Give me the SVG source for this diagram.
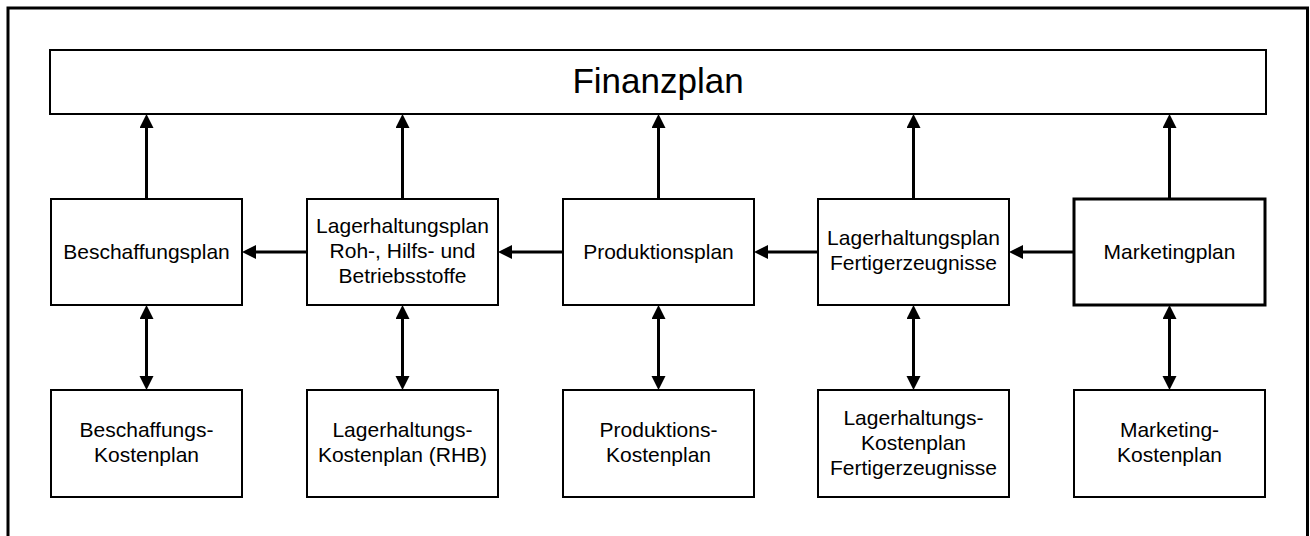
<svg xmlns="http://www.w3.org/2000/svg" width="1310" height="536" viewBox="0 0 1310 536">
  <style>
    .box { fill: #fff; stroke: #000; stroke-width: 2; }
    .box.bold { stroke-width: 3; }
    .frame { fill: #fff; stroke: #000; stroke-width: 3; }
    text { font-family: "Liberation Sans", Arial, sans-serif; font-size: 21px; fill: #000; text-anchor: middle; }
    text.title { font-size: 35px; }
    .conn { fill: none; stroke: #000; stroke-width: 3; }
  </style>
  <defs>
    <marker id="arrow" markerUnits="userSpaceOnUse" markerWidth="16" markerHeight="16" refX="7" refY="7" orient="auto-start-reverse">
      <path d="M0,0 L14,7 L0,14 z" fill="#000"/>
    </marker>
  </defs>

  <!-- outer frame -->
  <rect class="frame" x="8" y="8" width="1299.5" height="540"/>

  <!-- top-level plan -->
  <g id="finanzplan">
    <rect class="box" x="50" y="50" width="1216" height="64"/>
    <text class="title" x="658" y="93">Finanzplan</text>
  </g>

  <!-- middle row: operational plans -->
  <g id="beschaffungsplan">
    <rect class="box" x="51" y="199" width="191" height="106"/>
    <text x="146.5" y="259">Beschaffungsplan</text>
  </g>
  <g id="lagerhaltungsplan-rhb">
    <rect class="box" x="307" y="199" width="191" height="106"/>
    <text x="402.5" y="233">Lagerhaltungsplan</text>
    <text x="402.5" y="258">Roh-, Hilfs- und</text>
    <text x="402.5" y="283">Betriebsstoffe</text>
  </g>
  <g id="produktionsplan">
    <rect class="box" x="563" y="199" width="191" height="106"/>
    <text x="658.5" y="259">Produktionsplan</text>
  </g>
  <g id="lagerhaltungsplan-fe">
    <rect class="box" x="818" y="199" width="191" height="106"/>
    <text x="913.5" y="245">Lagerhaltungsplan</text>
    <text x="913.5" y="270">Fertigerzeugnisse</text>
  </g>
  <g id="marketingplan">
    <rect class="box bold" x="1074" y="199" width="191" height="106"/>
    <text x="1169.5" y="259">Marketingplan</text>
  </g>

  <!-- bottom row: cost plans -->
  <g id="beschaffungs-kostenplan">
    <rect class="box" x="51" y="390" width="191" height="107"/>
    <text x="146.5" y="437">Beschaffungs-</text>
    <text x="146.5" y="462">Kostenplan</text>
  </g>
  <g id="lagerhaltungs-kostenplan-rhb">
    <rect class="box" x="307" y="390" width="191" height="107"/>
    <text x="402.5" y="437">Lagerhaltungs-</text>
    <text x="402.5" y="462">Kostenplan (RHB)</text>
  </g>
  <g id="produktions-kostenplan">
    <rect class="box" x="563" y="390" width="191" height="107"/>
    <text x="658.5" y="437">Produktions-</text>
    <text x="658.5" y="462">Kostenplan</text>
  </g>
  <g id="lagerhaltungs-kostenplan-fe">
    <rect class="box" x="818" y="390" width="191" height="107"/>
    <text x="913.5" y="425">Lagerhaltungs-</text>
    <text x="913.5" y="450">Kostenplan</text>
    <text x="913.5" y="475">Fertigerzeugnisse</text>
  </g>
  <g id="marketing-kostenplan">
    <rect class="box" x="1074" y="390" width="191" height="107"/>
    <text x="1169.5" y="437">Marketing-</text>
    <text x="1169.5" y="462">Kostenplan</text>
  </g>

  <!-- connectors -->
  <g id="connectors">
    <!-- up into Finanzplan -->
    <path class="conn" d="M146.5,199 V121" marker-end="url(#arrow)"/>
    <path class="conn" d="M402.5,199 V121" marker-end="url(#arrow)"/>
    <path class="conn" d="M658.5,199 V121" marker-end="url(#arrow)"/>
    <path class="conn" d="M913.5,199 V121" marker-end="url(#arrow)"/>
    <path class="conn" d="M1169.5,199 V121" marker-end="url(#arrow)"/>
    <!-- right-to-left chain -->
    <path class="conn" d="M307,252 H249" marker-end="url(#arrow)"/>
    <path class="conn" d="M563,252 H505" marker-end="url(#arrow)"/>
    <path class="conn" d="M818,252 H761" marker-end="url(#arrow)"/>
    <path class="conn" d="M1074,252 H1016" marker-end="url(#arrow)"/>
    <!-- plan <-> cost plan -->
    <path class="conn" d="M146.5,312 V383" marker-start="url(#arrow)" marker-end="url(#arrow)"/>
    <path class="conn" d="M402.5,312 V383" marker-start="url(#arrow)" marker-end="url(#arrow)"/>
    <path class="conn" d="M658.5,312 V383" marker-start="url(#arrow)" marker-end="url(#arrow)"/>
    <path class="conn" d="M913.5,312 V383" marker-start="url(#arrow)" marker-end="url(#arrow)"/>
    <path class="conn" d="M1169.5,312 V383" marker-start="url(#arrow)" marker-end="url(#arrow)"/>
  </g>
</svg>
